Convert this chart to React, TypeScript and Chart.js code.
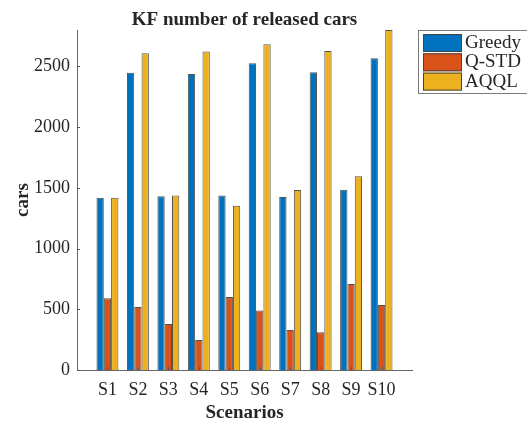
import React, { useEffect, useRef } from "react";
import { Chart, registerables } from "chart.js";

Chart.register(...registerables);

const categories = ["S1", "S2", "S3", "S4", "S5", "S6", "S7", "S8", "S9", "S10"];
const greedy = [1418, 2448, 1430, 2438, 1438, 2526, 1424, 2452, 1485, 2568];
const qstd = [590, 519, 379, 247, 601, 489, 329, 310, 708, 535];
const aqql = [1418, 2609, 1438, 2622, 1353, 2683, 1482, 2628, 1596, 2800];
const yTickValues = [0, 500, 1000, 1500, 2000, 2500];
const seriesNames = ["Greedy", "Q-STD", "AQQL"];
const seriesColors = ["#0072BD", "#D95319", "#EDB120"];

const TEXT = "#262626";
const SERIF = "'Liberation Serif', 'Times New Roman', serif";

export default function App() {
  const ref = useRef<HTMLCanvasElement | null>(null);

  useEffect(() => {
    document.body.style.margin = "0";
    const canvas = ref.current;
    if (!canvas) return;

    const pad = (arr: number[]) => [null, ...arr, null];
    const labels = ["", ...categories, ""];

    const decor = {
      id: "decor",
      afterDraw(chart: any) {
        const ctx = chart.ctx as CanvasRenderingContext2D;
        const area = chart.chartArea;
        const xs = chart.scales.x;
        const ys = chart.scales.y;
        ctx.save();
        // inward tick marks
        ctx.strokeStyle = "#555";
        ctx.lineWidth = 1;
        ctx.beginPath();
        yTickValues.forEach((v) => {
          const y = Math.round(ys.getPixelForValue(v)) + 0.5;
          ctx.moveTo(area.left, y);
          ctx.lineTo(area.left + 3, y);
        });
        categories.forEach((_, i) => {
          const x = Math.round(xs.getPixelForValue(i + 1)) + 0.5;
          ctx.moveTo(x, area.bottom);
          ctx.lineTo(x, area.bottom - 3);
        });
        ctx.stroke();

        // title
        ctx.fillStyle = TEXT;
        ctx.font = `bold 19px ${SERIF}`;
        ctx.textAlign = "center";
        ctx.textBaseline = "alphabetic";
        ctx.fillText("KF number of released cars", (area.left + area.right) / 2, 25);
        // x title
        ctx.fillText("Scenarios", (area.left + area.right) / 2, 418);
        // y title
        ctx.save();
        ctx.translate(28, (area.top + area.bottom) / 2);
        ctx.rotate(-Math.PI / 2);
        ctx.fillText("cars", 0, 0);
        ctx.restore();

        // legend
        const lx = 418.5;
        const ly = 30.5;
        ctx.fillStyle = "#fff";
        ctx.fillRect(lx, ly, 130, 63);
        ctx.strokeStyle = "#7a7a7a";
        ctx.lineWidth = 1;
        ctx.strokeRect(lx, ly, 130, 63);
        ctx.font = `19px ${SERIF}`;
        ctx.textAlign = "left";
        seriesNames.forEach((name, i) => {
          const sy = 34 + i * 19.3;
          ctx.fillStyle = seriesColors[i];
          ctx.fillRect(423, sy, 39, 18);
          ctx.strokeStyle = "#444";
          ctx.strokeRect(423.5, sy + 0.5, 38, 17);
          ctx.fillStyle = TEXT;
          ctx.fillText(name, 465, sy + 14);
        });
        ctx.restore();
      },
    };

    const chart = new Chart(canvas, {
      type: "bar",
      data: {
        labels,
        datasets: [greedy, qstd, aqql].map((d, i) => ({
          label: seriesNames[i],
          data: pad(d),
          backgroundColor: seriesColors[i],
          borderColor: "rgba(50,50,50,0.85)",
          borderWidth: 1,
          categoryPercentage: 0.72,
          barPercentage: 1.0,
        })),
      },
      options: {
        responsive: false,
        animation: false,
        devicePixelRatio: 1,
        layout: { padding: { left: 0, top: 30, right: 115, bottom: 0 } },
        plugins: {
          legend: { display: false },
          title: { display: false },
          tooltip: { enabled: false },
        },
        scales: {
          x: {
            type: "category",
            offset: false,
            grid: { display: false, drawTicks: false },
            border: { display: true, color: "#666", width: 1 },
            ticks: {
              color: TEXT,
              font: { family: SERIF, size: 18 },
              padding: 9,
              maxRotation: 0,
              autoSkip: false,
            },
            afterFit: (s: any) => {
              s.height = 52;
            },
          },
          y: {
            min: 0,
            max: 2800,
            grid: { display: false, drawTicks: false },
            border: { display: true, color: "#666", width: 1 },
            ticks: {
              color: TEXT,
              font: { family: SERIF, size: 18 },
              padding: 7,
              stepSize: 500,
              callback: (v: any) => String(v),
            },
            afterBuildTicks: (s: any) => {
              s.ticks = yTickValues.map((v) => ({ value: v }));
            },
            afterFit: (s: any) => {
              s.width = 77;
            },
          },
        },
      },
      plugins: [decor],
    });

    return () => chart.destroy();
  }, []);

  return (
    <div style={{ position: "relative", width: 527, height: 422, background: "#fff" }}>
      <canvas ref={ref} width={527} height={422} style={{ display: "block" }} />
    </div>
  );
}
